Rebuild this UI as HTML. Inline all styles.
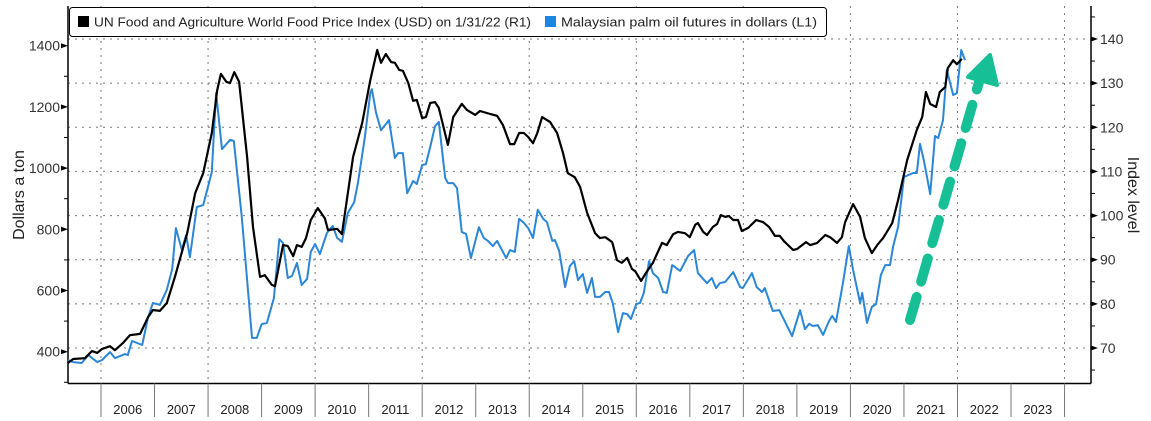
<!DOCTYPE html>
<html><head><meta charset="utf-8">
<style>
html,body{margin:0;padding:0;background:#fff;}
svg{display:block;font-family:"Liberation Sans",Arial,sans-serif;}
</style></head>
<body>
<svg id="chart" width="1151" height="421" viewBox="0 0 1151 421" xmlns="http://www.w3.org/2000/svg">
<g id="grid"></g>
<g id="axes"></g>
<g id="series"></g>
<g>
  <rect x="69.5" y="7.5" width="757" height="29" rx="3" fill="#fff" stroke="#000" stroke-width="1"/>
  <rect x="78" y="16" width="11" height="11" fill="#000"/>
  <text x="94" y="26.5" font-size="13" fill="#222" textLength="437" lengthAdjust="spacingAndGlyphs">UN Food and Agriculture World Food Price Index (USD)  on 1/31/22 (R1)</text>
  <rect x="545" y="16" width="11" height="11" fill="#1f86e0"/>
  <text x="561" y="26.5" font-size="13" fill="#222" textLength="256" lengthAdjust="spacingAndGlyphs">Malaysian palm oil futures in dollars  (L1)</text>
</g>
<text transform="translate(24,195) rotate(-90)" text-anchor="middle" font-size="16" fill="#222">Dollars a ton</text>
<text transform="translate(1128,195) rotate(90)" text-anchor="middle" font-size="16" fill="#222">Index level</text>
<g>
  <line x1="910" y1="320" x2="979" y2="82" stroke="#16bf95" stroke-width="10" stroke-linecap="round" stroke-dasharray="24,16"/>
  <polygon points="990,55 968,77 997,85" fill="#16bf95" stroke="#16bf95" stroke-width="4" stroke-linejoin="round"/>
</g>
<script>
// ---- data ----
const fpiDates = [2005.38,2005.48,2005.70,2005.83,2005.93,2006.02,2006.17,2006.26,2006.41,2006.54,2006.73,2006.88,2006.97,2007.10,2007.23,2007.38,2007.61,2007.76,2007.91,2008.07,2008.17,2008.24,2008.34,2008.41,2008.49,2008.58,2008.73,2008.84,2008.97,2009.06,2009.19,2009.25,2009.40,2009.49,2009.59,2009.66,2009.75,2009.83,2009.92,2010.05,2010.18,2010.24,2010.41,2010.50,2010.71,2010.88,2011.03,2011.16,2011.23,2011.32,2011.42,2011.49,2011.57,2011.64,2011.74,2011.83,2011.90,2012.00,2012.07,2012.15,2012.24,2012.31,2012.48,2012.58,2012.74,2012.84,2012.99,2013.08,2013.27,2013.40,2013.51,2013.64,2013.72,2013.81,2013.90,2013.98,2014.07,2014.15,2014.24,2014.39,2014.52,2014.63,2014.72,2014.85,2014.95,2015.08,2015.23,2015.32,2015.42,2015.55,2015.64,2015.73,2015.83,2015.92,2015.98,2016.09,2016.18,2016.31,2016.48,2016.57,2016.69,2016.78,2016.91,2017.00,2017.10,2017.15,2017.25,2017.32,2017.43,2017.51,2017.58,2017.66,2017.73,2017.81,2017.90,2017.97,2018.09,2018.24,2018.37,2018.48,2018.59,2018.68,2018.76,2018.93,2019.00,2019.17,2019.25,2019.38,2019.53,2019.62,2019.75,2019.84,2019.90,2020.05,2020.18,2020.27,2020.40,2020.50,2020.61,2020.78,2020.89,2021.06,2021.24,2021.34,2021.41,2021.49,2021.60,2021.67,2021.77,2021.82,2021.92,2021.99,2022.08];
const fpiValues = [66.6,67.5,67.7,69.3,68.9,69.8,70.4,69.5,71.1,72.9,73.2,77.0,78.6,78.4,80.2,86.1,96.0,105.1,109.6,118.7,128.4,132.1,130.3,130.0,132.5,130.3,113.3,97.4,86.1,86.5,84.3,84.0,93.3,93.1,90.8,93.3,92.9,94.9,99.0,101.7,99.4,96.7,97.0,95.8,113.3,121.0,130.7,137.5,134.6,136.6,134.8,134.6,133.0,132.8,130.0,126.0,126.2,122.1,122.3,125.5,125.7,124.4,116.0,122.3,125.3,123.9,122.8,123.7,123.0,122.6,120.5,116.2,116.2,118.7,118.7,117.8,116.4,118.7,122.3,121.2,118.7,114.2,109.6,108.7,106.5,100.6,96.0,94.9,95.1,94.0,89.9,89.3,90.4,87.9,87.4,85.2,87.0,89.3,93.8,93.3,95.8,96.3,96.0,95.1,97.9,98.3,96.3,95.6,97.4,98.1,100.1,99.7,99.9,99.0,99.0,96.5,97.2,99.0,98.5,97.4,95.4,95.4,94.2,92.2,92.4,94.0,93.3,93.8,95.6,95.1,93.8,95.1,98.5,102.6,99.7,94.9,91.5,93.3,94.9,98.3,103.5,112.6,119.4,122.3,128.0,125.3,124.6,128.0,129.1,133.4,135.2,134.3,135.5];
const palmDates = [2005.38,2005.48,2005.64,2005.76,2005.93,2006.02,2006.17,2006.26,2006.45,2006.50,2006.58,2006.77,2006.88,2006.97,2007.10,2007.23,2007.33,2007.40,2007.51,2007.59,2007.66,2007.79,2007.91,2008.07,2008.15,2008.26,2008.41,2008.48,2008.63,2008.82,2008.91,2009.00,2009.10,2009.23,2009.33,2009.40,2009.49,2009.57,2009.66,2009.75,2009.85,2009.92,2010.00,2010.09,2010.22,2010.33,2010.41,2010.50,2010.61,2010.73,2010.80,2010.93,2011.03,2011.06,2011.14,2011.23,2011.38,2011.49,2011.55,2011.64,2011.72,2011.83,2011.90,2012.00,2012.07,2012.15,2012.24,2012.31,2012.43,2012.48,2012.58,2012.65,2012.74,2012.82,2012.91,2013.06,2013.15,2013.23,2013.32,2013.40,2013.57,2013.64,2013.73,2013.81,2013.90,2013.98,2014.07,2014.16,2014.26,2014.33,2014.43,2014.48,2014.56,2014.67,2014.76,2014.84,2014.91,2015.00,2015.08,2015.17,2015.23,2015.32,2015.42,2015.49,2015.56,2015.66,2015.75,2015.83,2015.90,2016.00,2016.07,2016.14,2016.24,2016.31,2016.41,2016.50,2016.57,2016.67,2016.82,2016.97,2017.08,2017.15,2017.32,2017.41,2017.49,2017.56,2017.66,2017.81,2017.94,2017.99,2018.16,2018.25,2018.35,2018.40,2018.55,2018.67,2018.91,2019.06,2019.15,2019.23,2019.30,2019.39,2019.49,2019.60,2019.66,2019.73,2019.86,2019.97,2020.05,2020.18,2020.22,2020.31,2020.40,2020.48,2020.57,2020.65,2020.74,2020.80,2020.89,2021.00,2021.08,2021.17,2021.24,2021.30,2021.37,2021.49,2021.58,2021.64,2021.73,2021.80,2021.92,2021.99,2022.07,2022.14];
const palmValues = [373,366,363,389,366,373,399,379,392,389,435,422,513,559,553,602,670,804,733,781,709,873,879,987,1245,1062,1092,1089,840,445,445,490,494,575,768,755,641,648,690,618,638,726,752,719,788,811,772,759,853,889,951,1102,1245,1258,1180,1124,1157,1033,1049,1049,918,958,948,1010,1013,1069,1137,1151,968,951,951,935,791,785,706,807,772,762,745,762,706,732,726,834,821,804,772,864,834,824,762,765,729,611,680,696,634,654,592,641,579,579,595,595,559,464,526,523,507,556,559,592,696,657,641,595,592,683,664,713,732,657,624,641,608,624,628,660,611,608,657,611,595,608,533,536,451,536,474,491,484,487,455,500,517,497,624,745,667,559,592,494,546,556,651,683,683,745,808,971,977,984,984,1079,1026,915,1105,1098,1157,1321,1239,1245,1386,1353];
const leftTicks = [400,600,800,1000,1200,1400];
const rightTicks = [70,80,90,100,110,120,130,140];
const yearLabels = [2006,2007,2008,2009,2010,2011,2012,2013,2014,2015,2016,2017,2018,2019,2020,2021,2022,2023];

// ---- scales ----
const NS = "http://www.w3.org/2000/svg";
const PL = 68, PR = 1091, PT = 6, PB = 383.5;
const xScale = t => 101 + (t - 2006) * 53.53;
const yLeft = v => 351.7 - (v - 400) * (306 / 1000);
const yRight = v => 348 - (v - 70) * (309 / 70);
function mk(tag, attrs, parent){ const e = document.createElementNS(NS, tag); for (const k in attrs) e.setAttribute(k, attrs[k]); parent.appendChild(e); return e; }
const grid = document.getElementById('grid'), axes = document.getElementById('axes'), series = document.getElementById('series');

// horizontal gridlines (right axis)
rightTicks.forEach(v => {
  const l = mk('line', {x1: PL, x2: PR, y1: yRight(v), y2: yRight(v), stroke: '#777', 'stroke-width': 1, 'stroke-dasharray': '2,5'}, grid);
  
  
});
// vertical gridlines every 2 years
for (let yr = 2006; yr <= 2024; yr += 2) {
  const l = mk('line', {x1: xScale(yr), x2: xScale(yr), y1: PT, y2: PB, stroke: '#777', 'stroke-width': 1, 'stroke-dasharray': '2,5'}, grid);
  
  
}

// axes lines
mk('line', {x1: PL, x2: PL, y1: PT, y2: PB, stroke: '#000', 'stroke-width': 1.5}, axes);
mk('line', {x1: PR, x2: PR, y1: PT, y2: PB, stroke: '#000', 'stroke-width': 1.5}, axes);
mk('line', {x1: PL, x2: PR, y1: PB, y2: PB, stroke: '#000', 'stroke-width': 1.5}, axes);

// left ticks
leftTicks.forEach(v => {
  const y = yLeft(v);
  mk('polygon', {points: `${PL-7},${y-2.5} ${PL},${y} ${PL-7},${y+2.5}`, fill: '#000'}, axes);
  const t = mk('text', {x: PL - 8, y: y + 5, 'text-anchor': 'end', 'font-size': 14, fill: '#333'}, axes);
  t.textContent = v;
  
  
  if (v < 1400) { const ym = yLeft(v + 100); mk('line', {x1: PL-4, x2: PL, y1: ym, y2: ym, stroke: '#000', 'stroke-width': 1}, axes); }
});
mk('line', {x1: PL-4, x2: PL, y1: yLeft(300), y2: yLeft(300), stroke: '#000', 'stroke-width': 1}, axes);
// right ticks
rightTicks.forEach(v => {
  const y = yRight(v);
  mk('polygon', {points: `${PR},${y-2.5} ${PR+7},${y} ${PR},${y+2.5}`, fill: '#000'}, axes);
  const t = mk('text', {x: PR + 9, y: y + 5, 'font-size': 14, fill: '#333'}, axes);
  t.textContent = v;
  
  
  const ym = yRight(v - 5); mk('line', {x1: PR, x2: PR+4, y1: ym, y2: ym, stroke: '#000', 'stroke-width': 1}, axes);
});
mk('line', {x1: PR, x2: PR+4, y1: yRight(145), y2: yRight(145), stroke: '#000', 'stroke-width': 1}, axes);

// year separators and labels
yearLabels.forEach(yr => {
  const x0 = xScale(yr), x1 = xScale(yr + 1);
  mk('line', {x1: x0, x2: x0, y1: PB, y2: 417, stroke: '#777', 'stroke-width': 1}, axes);
  if (yr === 2023) mk('line', {x1: x1, x2: x1, y1: PB, y2: 417, stroke: '#777', 'stroke-width': 1}, axes);
  const t = mk('text', {x: (x0 + x1) / 2, y: 414, 'text-anchor': 'middle', 'font-size': 13, fill: '#222'}, axes);
  t.textContent = yr;
  
  
});

// series
const palmPath = palmDates.map((d, i) => (i ? 'L' : 'M') + xScale(d).toFixed(1) + ',' + yLeft(palmValues[i]).toFixed(1)).join('');
const p1 = mk('path', {d: palmPath, fill: 'none', stroke: '#2b86d6', 'stroke-width': 2, 'stroke-linejoin': 'round'}, series);


const fpiPath = fpiDates.map((d, i) => (i ? 'L' : 'M') + xScale(d).toFixed(1) + ',' + yRight(fpiValues[i]).toFixed(1)).join('');
const p2 = mk('path', {d: fpiPath, fill: 'none', stroke: '#000', 'stroke-width': 2.2, 'stroke-linejoin': 'round'}, series);


</script>
</svg>
</body></html>
